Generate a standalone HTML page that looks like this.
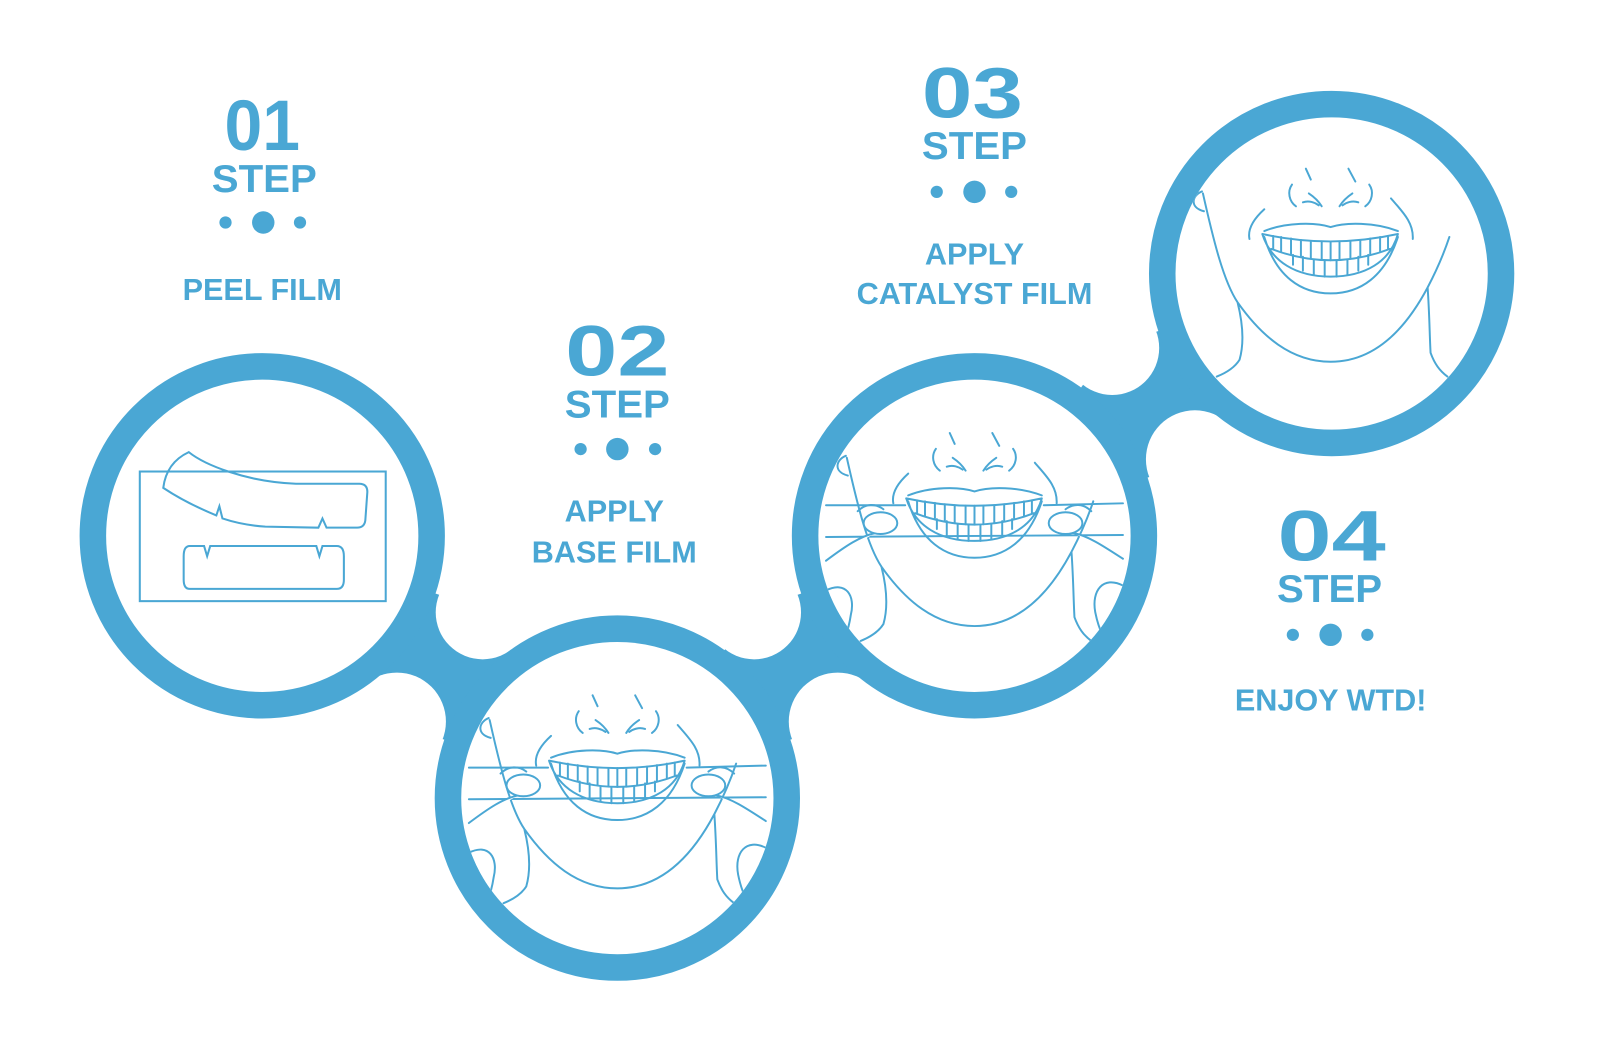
<!DOCTYPE html>
<html><head><meta charset="utf-8"><style>
html,body{margin:0;padding:0;background:#fff;}
svg{display:block;}
text{font-family:"Liberation Sans",sans-serif;font-weight:bold;fill:#4aa7d4;text-anchor:middle;}
</style></head><body>
<svg width="1600" height="1040" viewBox="0 0 1568 1019" preserveAspectRatio="none" xmlns="http://www.w3.org/2000/svg">
<defs>
<clipPath id="c1"><circle cx="257" cy="525" r="153"/></clipPath>
<clipPath id="c2"><circle cx="605" cy="782" r="153"/></clipPath>
<clipPath id="c3"><circle cx="955" cy="525" r="153"/></clipPath>
<clipPath id="c4"><circle cx="1305" cy="268" r="153"/></clipPath>
<g id="face" fill="none" stroke="#4aa7d4" stroke-width="2" stroke-linecap="round">
<path d="M-25,-109 L-20,-98 M18,-109 L25,-96 M-39,-93 C-44,-86 -42,-76 -35,-71 M39,-93 C44,-86 42,-76 35,-71 M-22,-84 C-16,-80 -12,-76 -9,-71 M-28,-75 C-22,-77 -16,-75 -12,-72 M22,-84 C16,-80 12,-76 9,-71 M28,-75 C22,-77 16,-75 12,-72"/>
<path d="M-67,-68 C-78,-58 -84,-48 -82,-38 M61,-79 C72,-66 84,-55 83,-38"/>
<path d="M-67,-46 C-45,-55 -15,-55 0,-50 C15,-55 45,-55 68,-46"/>
<path d="M-69,-43 Q0,-28 68,-43 M-69,-43 C-60,-15 -35,0 0,0 C35,0 60,-15 68,-43 M-67,-40 C-55,0 -30,17 0,17 C30,17 55,0 68,-40 M-60,-28 Q0,-5 60,-28"/>
<path d="M0,-35.5 L0,-16.5 M-9,-35.6 L-9,-16.8 M9,-35.6 L9,-16.8 M-20,-36 L-20,-18 M20,-36 L20,-18 M-30,-37 L-30,-20 M30,-37 L30,-20 M-40,-38.5 L-40,-23 M40,-38.5 L40,-23 M-50,-40 L-50,-25.5 M50,-40 L50,-25.5 M-58,-41 L-58,-28 M58,-41 L58,-28"/>
<path d="M-6,-16 L-6,0 M6,-16 L6,0 M-17,-17 L-17,-2 M17,-17 L17,-2 M-28,-20 L-28,-6 M28,-20 L28,-6 M-38,-22 L-38,-12 M38,-22 L38,-12"/>
<path d="M-129,-84 C-118,-35 -108,5 -94,26 C-70,60 -40,86 0,86 C40,86 72,60 98,11 C108,-8 115,-25 120,-40 M-94,26 C-88,50 -88,70 -92,84 C-97,92 -105,97 -115,101 M98,11 C100,40 100,60 101,77 C105,88 110,95 118,101 M-130,-86 C-140,-82 -143,-70 -128,-66"/>
</g>
<g id="hands" fill="#fff" stroke="#4aa7d4" stroke-width="2" stroke-linecap="round">
<path fill="none" d="M-150,-36 L-70,-36 M70,-36 L150,-38 M-150,-4 L150,-6"/>
<path d="M-150,20 C-130,5 -115,-5 -100,-8 M150,18 C130,5 115,-5 100,-8"/>
<ellipse cx="-95" cy="-18" rx="17" ry="11"/>
<ellipse cx="92" cy="-18" rx="17" ry="11"/>
<path d="M-118,-30 C-110,-38 -100,-38 -92,-32 M118,-30 C110,-38 100,-38 92,-32" fill="none"/>
<path d="M-150,50 C-130,40 -120,55 -125,75 C-128,95 -135,110 -145,115" />
<path d="M150,45 C130,35 118,50 122,72 C126,92 134,108 145,112" />
</g>
</defs>

<g fill="#4aa7d4">
<polygon points="257,525 473,597 605,782 389,709"/>
<polygon points="605,782 739,597 955,525 821,709"/>
<polygon points="955,525 1088,340 1305,268 1172,452"/>
</g>
<g fill="#fff">
<circle cx="473" cy="600" r="46"/>
<circle cx="389" cy="707" r="48"/>
<circle cx="739" cy="600" r="46"/>
<circle cx="821" cy="707" r="48"/>
<circle cx="1090" cy="341" r="46"/>
<circle cx="1171" cy="450" r="48"/>
</g>
<g fill="#fff" stroke="#4aa7d4" stroke-width="26">
<circle cx="257" cy="525" r="166"/>
<circle cx="605" cy="782" r="166"/>
<circle cx="955" cy="525" r="166"/>
<circle cx="1305" cy="268" r="166"/>
</g>

<g fill="none" stroke="#4aa7d4" stroke-width="2" clip-path="url(#c1)">
<rect x="137" y="462" width="241" height="127"/>
<path d="M160,478 C162,462 170,450 185,443 C200,455 240,472 290,474 L352,474 Q360,474 360,482 L358,510 Q357,517 350,517 L320,517 L316,508 L312,517 L260,516 C245,515 230,512 218,508 L215,496 L212,505 C195,498 178,490 160,478 Z"/>
<path d="M186,535 L200,535 L203,545 L206,535 L310,535 L313,545 L316,535 L330,535 Q337,535 337,545 L337,568 Q337,577 330,577 L186,577 Q180,577 180,568 L180,545 Q180,535 186,535 Z"/>
</g>

<g clip-path="url(#c2)">
<use href="#face" transform="translate(605,787) scale(0.97)"/>
<use href="#hands" transform="translate(605,787) scale(0.97)"/>
</g>
<g clip-path="url(#c3)">
<use href="#face" transform="translate(955,530) scale(0.97)"/>
<use href="#hands" transform="translate(955,530) scale(0.97)"/>
</g>
<g clip-path="url(#c4)">
<use href="#face" transform="translate(1304,271) scale(0.97)"/>
</g>

<g>
<text x="257" y="147" font-size="70" textLength="74" lengthAdjust="spacingAndGlyphs">01</text>
<text x="259" y="188" font-size="38" textLength="103" lengthAdjust="spacingAndGlyphs">STEP</text>
<circle cx="221" cy="218" r="6" fill="#4aa7d4"/><circle cx="258" cy="218" r="11" fill="#4aa7d4"/><circle cx="294" cy="218" r="6" fill="#4aa7d4"/>
<text x="257" y="294" font-size="30">PEEL FILM</text>

<text x="605" y="368" font-size="70" textLength="102" lengthAdjust="spacingAndGlyphs">02</text>
<text x="605" y="409" font-size="38" textLength="103" lengthAdjust="spacingAndGlyphs">STEP</text>
<circle cx="569" cy="440" r="6" fill="#4aa7d4"/><circle cx="605" cy="440" r="11" fill="#4aa7d4"/><circle cx="642" cy="440" r="6" fill="#4aa7d4"/>
<text x="602" y="511" font-size="30">APPLY</text>
<text x="602" y="551" font-size="30">BASE FILM</text>

<text x="953" y="115" font-size="70" textLength="99" lengthAdjust="spacingAndGlyphs">03</text>
<text x="955" y="156" font-size="38" textLength="103" lengthAdjust="spacingAndGlyphs">STEP</text>
<circle cx="918" cy="188" r="6" fill="#4aa7d4"/><circle cx="955" cy="188" r="11" fill="#4aa7d4"/><circle cx="991" cy="188" r="6" fill="#4aa7d4"/>
<text x="955" y="259" font-size="30">APPLY</text>
<text x="955" y="298" font-size="30">CATALYST FILM</text>

<text x="1305" y="549" font-size="70" textLength="106" lengthAdjust="spacingAndGlyphs">04</text>
<text x="1303" y="590" font-size="38" textLength="103" lengthAdjust="spacingAndGlyphs">STEP</text>
<circle cx="1267" cy="622" r="6" fill="#4aa7d4"/><circle cx="1304" cy="622" r="11" fill="#4aa7d4"/><circle cx="1340" cy="622" r="6" fill="#4aa7d4"/>
<text x="1304" y="696" font-size="30">ENJOY WTD!</text>
</g>
</svg>
</body></html>
